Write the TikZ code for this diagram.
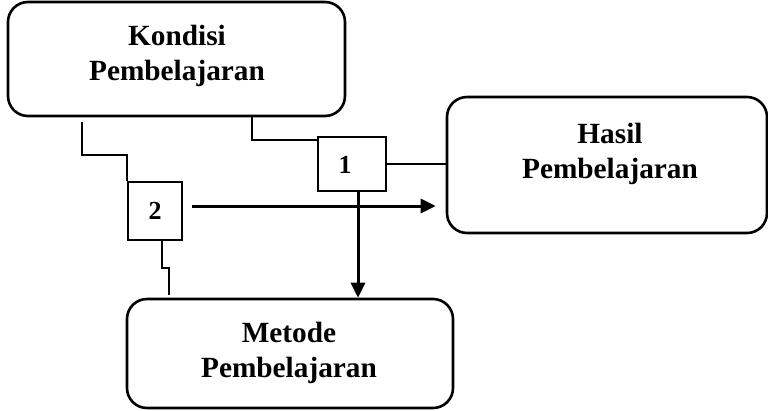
\documentclass[tikz,border=0pt]{standalone}
\usepackage{fontspec}
\setmainfont{Liberation Serif}
\usetikzlibrary{positioning,calc,arrows.meta}

\begin{document}
\begin{tikzpicture}[x=1pt, y=-1pt, >={Triangle[length=15pt,width=14pt]},
  panel/.style={draw, line width=2.6pt, rounded corners=20pt, inner sep=0pt},
  title/.style={font=\bfseries\fontsize{29.3}{35}\selectfont, align=center, inner sep=0pt},
  numbox/.style={draw, line width=2.4pt, inner sep=0pt, font=\bfseries\fontsize{26}{30}\selectfont},
  link/.style={line width=2.2pt},
  flow/.style={->, line width=3pt}]
\useasboundingbox (0,0) rectangle (768,410);

% ----------------- Big boxes -----------------
\node (kondisi) [panel, minimum width=337pt, minimum height=114pt] at (176.5,59) {};
\node (kondisiText) [title] at (177,55.5) {Kondisi\\Pembelajaran};

\node (hasil) [panel, minimum width=320pt, minimum height=136pt] at (607,165) {};
\node (hasilText) [title] at (610,153.8) {Hasil\\Pembelajaran};

\node (metode) [panel, minimum width=326pt, minimum height=109pt] at (290,353.5) {};
\node (metodeText) [title] at (289,352.5) {Metode\\Pembelajaran};

% ----------------- Small boxes -----------------
\node (box1) [numbox, minimum width=68pt, minimum height=54pt] at (352,164) {};
\node (box1Text) [font=\bfseries\fontsize{26}{30}\selectfont, inner sep=0pt] at (345,165) {1};
\node (box2) [numbox, minimum width=54pt, minimum height=58pt] at (155,211) {2};

% ----------------- Lines -----------------
\draw[link, shorten <=5pt] ([xshift=75pt]kondisi.south west) -- ++(0,38) -| (box2.north west);
\draw[link] ([xshift=245pt]kondisi.south west) |- ([yshift=-4pt]box1.north west);
\draw[link] (box1.east) -- (box1.east -| hasil.west);
\draw[link, shorten >=3pt] ([xshift=7pt]box2.south) -- ++(0,27) -| ([xshift=43pt]metode.north west);

% ----------------- Arrows -----------------
\draw[flow] ([xshift=6pt]box1.south) -- ([xshift=6pt]box1.south |- metode.north);
\draw[flow, shorten <=9pt, shorten >=10pt] ([yshift=5pt]box2.east) -- ([yshift=5pt]box2.east -| hasil.west);

\end{tikzpicture}
\end{document}
